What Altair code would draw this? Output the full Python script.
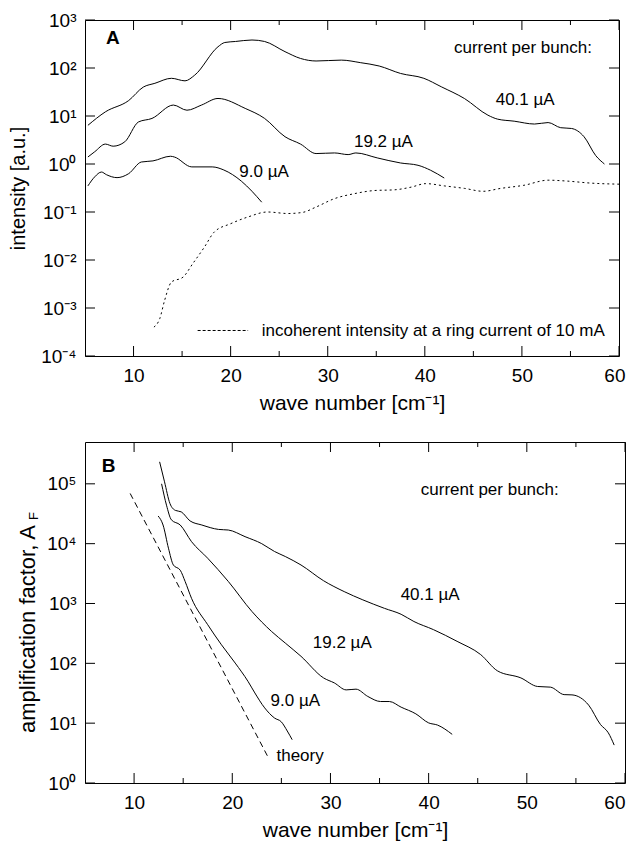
import altair as alt
import pandas as pd
import math

FONT = "Liberation Sans"

# ---------------- Panel A : intensity ----------------
a40_x = [5.3, 7.1, 9.5, 11.0, 12.2, 13.9, 15.3, 16.3, 18.7, 19.4, 20.5, 22.2, 23.5, 25.6, 27.2, 28.8,
         31.4, 33.4, 35.3, 37.5, 39.9, 41.7, 44.1, 46.5, 47.5, 49.2, 51.3, 52.7, 54.0, 55.1, 56.4, 57.6, 58.5]
a40_y = [6.4, 12.2, 21, 40, 48, 61, 54, 71, 277, 340, 357, 383, 357, 219, 158, 140,
         146, 129, 110, 77, 61, 40.6, 23, 10.4, 8.6, 7.8, 6.8, 7.3, 5.7, 5.5, 3.7, 1.5, 1.0]

a19_x = [5.3, 6.0, 7.1, 7.9, 9.1, 10.5, 11.9, 14.1, 15.5, 17.0, 18.7, 21.5, 23.5, 25.6, 27.2, 28.8,
         30.7, 32.1, 32.9, 35.1, 37.5, 39.3, 40.6, 42.0]
a19_y = [1.4, 1.8, 2.6, 2.35, 2.9, 7.5, 8.9, 16.9, 13.2, 16.9, 23.2, 14.4, 8.9, 3.7, 2.6, 1.65,
         1.7, 1.57, 1.7, 1.34, 1.05, 0.94, 0.74, 0.51]

a9_x = [5.3, 6.0, 6.7, 7.2, 8.3, 9.5, 10.8, 12.0, 13.8, 14.2, 16.0, 18.1, 19.3, 20.2, 21.1, 22.2, 23.2]
a9_y = [0.35, 0.54, 0.68, 0.6, 0.52, 0.63, 1.1, 1.16, 1.45, 1.4, 0.87, 0.87, 0.75, 0.6, 0.44, 0.27, 0.16]

inc_x = [12.1, 12.7, 13.2, 13.9, 15.1, 16.1, 17.3, 18.3, 20.0, 21.8, 23.8, 25.9, 27.4, 28.8, 30.7,
         32.7, 34.8, 36.9, 38.6, 40.1, 42.0, 44.1, 46.0, 47.8, 50.2, 52.7, 54.7, 57.1, 60.0]
inc_y = [4.0e-4, 6.0e-4, 1.44e-3, 3.47e-3, 4.4e-3, 8.4e-3, 0.0186, 0.038, 0.057, 0.079, 0.1, 0.093,
         0.098, 0.127, 0.19, 0.24, 0.28, 0.29, 0.33, 0.39, 0.35, 0.31, 0.27, 0.31, 0.36, 0.46, 0.44,
         0.40, 0.38]

# ---------------- Panel B : amplification factor ----------------
b40_x = [12.6, 13.1, 13.65, 14.2, 14.8, 15.7, 16.9, 18.6, 19.6, 21.3, 23.0, 24.3, 25.4, 27.0, 29.3,
         31.4, 33.3, 35.5, 37.2, 38.5, 40.5, 42.9, 45.3, 47.0, 49.4, 51.1, 52.4, 53.8, 54.6, 56.3,
         57.5, 58.3, 58.9]
b40_y = [2.33e5, 1.08e5, 4.7e4, 3.6e4, 3.4e4, 2.4e4, 2.05e4, 1.73e4, 1.69e4, 1.31e4, 1.0e4, 7.4e3,
         6.1e3, 4.4e3, 2.4e3, 1.58e3, 1.15e3, 830, 660, 500, 365, 233, 140, 75, 57, 41, 40, 30, 29.7,
         20, 9.5, 6.9, 4.3]

b19_x = [12.8, 13.3, 13.8, 14.7, 15.85, 17.5, 19.6, 22.0, 24.0, 25.4, 27.0, 29.3, 30.4, 31.6, 32.6,
         33.8, 35.1, 36.0, 37.2, 38.7, 40.0, 40.9, 42.4]
b19_y = [1.0e5, 4.4e4, 2.5e4, 2.05e4, 1.08e4, 5.7e3, 2.33e3, 736, 341, 218, 131, 57, 47, 36, 37,
         28, 23, 23, 18.5, 14.3, 10.1, 9.3, 6.5]

b9_x = [12.45, 12.95, 13.5, 14.0, 14.7, 15.2, 15.85, 17.5, 18.9, 20.3, 21.6, 22.3, 23.3, 24.3, 25.0,
        25.6, 26.1]
b9_y = [2.9e4, 2.05e4, 8.4e3, 4.4e3, 3.6e3, 2.33e3, 1.22e3, 442, 204, 101, 50, 32, 18, 12.2, 10.5,
        7.4, 5.3]

theory_x = [9.6, 23.7]
theory_y = [6.9e4, 2.6]

# ---------------- axes ----------------
x_labels = [10, 20, 30, 40, 50, 60]
x_minor = [15, 25, 35, 45, 55]
a_y_ticks = [1e-4, 1e-3, 1e-2, 1e-1, 1, 10, 100, 1000]
b_y_ticks = [1, 10, 100, 1000, 1e4, 1e5]
a_ydom = [1e-4, 1e3]
b_ydom = [1, 5e5]

# ---------------- annotations ----------------
a_text_x = [43.0, 47.3, 32.7, 20.9, 23.2]
a_text_y = [205, 16.9, 2.24, 0.53, 2.55e-4]
a_text_t = ["current per bunch:", "40.1 µA", "19.2 µA", "9.0 µA",
            "incoherent intensity at a ring current of 10 mA"]
b_text_x = [39.2, 37.15, 28.2, 23.9, 24.5]
b_text_y = [6.56e4, 1166, 178, 19.2, 2.33]
b_text_t = ["current per bunch:", "40.1 µA", "19.2 µA", "9.0 µA", "theory"]

SUP = {"0": "⁰", "1": "¹", "2": "²", "3": "³", "4": "⁴", "5": "⁵", "-": "⁻"}


def label_expr(vals):
    expr = "''"
    for v in vals:
        e = int(round(math.log10(v)))
        s = "10" + "".join(SUP[c] for c in str(e))
        expr = f"(round(log(datum.value)/LN10) == {e}) ? '{s}' : ({expr})"
    return expr


def curves(pairs):
    frames = []
    for name, xs, ys in pairs:
        frames.append(pd.DataFrame({"x": xs, "y": ys, "s": name}))
    return pd.concat(frames, ignore_index=True)


def panel(W, H, ydom, yvals, ytitle, solid, letter, letter_pos, texts, extra, flush_off):
    xs = alt.Scale(domain=[5, 60], nice=False, zero=False)
    ys = alt.Scale(type="log", domain=ydom, nice=False)
    xax = alt.Axis(values=x_labels, ticks=False, domain=False, grid=False, labelFontSize=19,
                   labelPadding=10, labelColor="black", labelFlush=True,
                   labelFlushOffset=flush_off,
                   title="wave number [cm⁻¹]", titleFontSize=21, titleFontWeight="normal",
                   titleColor="black", titlePadding=7)
    yax = alt.Axis(values=yvals, labelExpr=label_expr(yvals), ticks=False, domain=False,
                   grid=False, labelFontSize=19, labelPadding=9, labelColor="black",
                   labelFlush=False, title=ytitle, titleFontSize=20, titleFontWeight="normal",
                   titleColor="black", titlePadding=12)

    def X(f):
        return alt.X(f, scale=xs, axis=xax)

    def Y(f):
        return alt.Y(f, scale=ys, axis=yax)

    lines = alt.Chart(solid).mark_line(color="black", strokeWidth=1, interpolate="monotone").encode(
        x=X("x:Q"), y=Y("y:Q"), detail="s:N")
    layers = [lines]

    # tick marks pointing inward
    xmaj = pd.DataFrame({"x": x_labels})
    xmin = pd.DataFrame({"x": x_minor})
    yt = pd.DataFrame({"y": yvals})
    for df, ln in ((xmaj, 10), (xmin, 5)):
        layers.append(alt.Chart(df).mark_rule(color="black", strokeWidth=1).encode(
            x=X("x:Q"), y=alt.value(H), y2=alt.value(H - ln)))
        layers.append(alt.Chart(df).mark_rule(color="black", strokeWidth=1).encode(
            x=X("x:Q"), y=alt.value(0), y2=alt.value(ln)))
    layers.append(alt.Chart(yt).mark_rule(color="black", strokeWidth=1).encode(
        y=Y("y:Q"), x=alt.value(0), x2=alt.value(10)))
    layers.append(alt.Chart(yt).mark_rule(color="black", strokeWidth=1).encode(
        y=Y("y:Q"), x=alt.value(W - 10), x2=alt.value(W)))

    for lyr in extra(X, Y):
        layers.append(lyr)

    tdf = pd.DataFrame({"x": texts[0], "y": texts[1], "t": texts[2]})
    layers.append(alt.Chart(tdf).mark_text(align="left", baseline="alphabetic", fontSize=17,
                                           color="black").encode(
        x=X("x:Q"), y=Y("y:Q"), text="t:N"))
    ldf = pd.DataFrame({"x": [letter_pos[0]], "y": [letter_pos[1]], "t": [letter]})
    layers.append(alt.Chart(ldf).mark_text(align="left", baseline="alphabetic", fontSize=19,
                                           fontWeight="bold", color="black").encode(
        x=X("x:Q"), y=Y("y:Q"), text="t:N"))
    return alt.layer(*layers).properties(width=W, height=H)


def extra_a(X, Y):
    inc = pd.DataFrame({"x": inc_x, "y": inc_y})
    leg = pd.DataFrame({"x": [16.6], "x2": [21.8], "y": [3.4e-4]})
    return [
        alt.Chart(inc).mark_line(color="black", strokeWidth=1, strokeDash=[2, 3],
                                 interpolate="monotone").encode(x=X("x:Q"), y=Y("y:Q")),
        alt.Chart(leg).mark_rule(color="black", strokeWidth=1, strokeDash=[3, 2]).encode(
            x=X("x:Q"), x2="x2:Q", y=Y("y:Q")),
    ]


def extra_b(X, Y):
    th = pd.DataFrame({"x": theory_x, "y": theory_y})
    title = pd.DataFrame({"t": ["amplification factor, A"]})
    sub = pd.DataFrame({"t": ["F"]})
    return [
        alt.Chart(th).mark_line(color="black", strokeWidth=1, strokeDash=[6, 4]).encode(
            x=X("x:Q"), y=Y("y:Q")),
        alt.Chart(title).mark_text(angle=270, align="left", baseline="middle", fontSize=22,
                                   color="black").encode(
            x=alt.value(-57), y=alt.value(291), text="t:N"),
        alt.Chart(sub).mark_text(angle=270, align="center", baseline="middle", fontSize=13,
                                 color="black").encode(
            x=alt.value(-51), y=alt.value(74), text="t:N"),
    ]


top = panel(534, 336, a_ydom, a_y_ticks, "intensity [a.u.]",
            curves([("40.1", a40_x, a40_y), ("19.2", a19_x, a19_y), ("9.0", a9_x, a9_y)]),
            "A", (7.16, 316), (a_text_x, a_text_y, a_text_t), extra_a, 6)
bottom = panel(540, 341, b_ydom, b_y_ticks, "",
               curves([("40.1", b40_x, b40_y), ("19.2", b19_x, b19_y), ("9.0", b9_x, b9_y)]),
               "B", (6.7, 1.58e5), (b_text_x, b_text_y, b_text_t), extra_b, 0)

chart = alt.vconcat(top, bottom, spacing=27).properties(
    padding={"left": 0, "top": 2, "right": 0, "bottom": 0}
).configure(font=FONT).configure_view(stroke="black", strokeWidth=1)

chart.save("out.html", embed_options={"renderer": "svg", "actions": False})
